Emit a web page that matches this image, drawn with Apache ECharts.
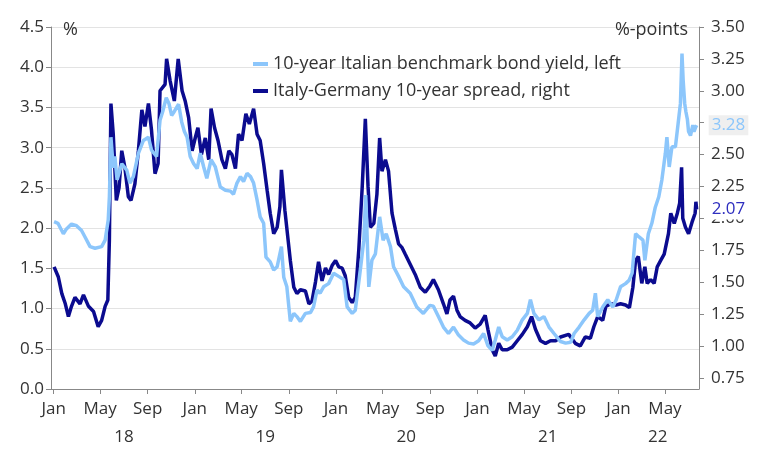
<!DOCTYPE html>
<html>
<head>
<meta charset="utf-8">
<script src="https://cdn.jsdelivr.net/npm/echarts@6.0.0/dist/echarts.min.js"></script>
<style>
html,body{margin:0;padding:0;background:#fff;}
#chart{width:760px;height:449px;}
</style>
</head>
<body>
<div id="chart"></div>
<script>
// ---- DATA ----
const yieldName = '10-year Italian benchmark bond yield, left';
const spreadName = 'Italy-Germany 10-year spread, right';

const yieldDates = ['2018-01-02','2018-01-12','2018-01-26','2018-02-03','2018-02-16','2018-03-01','2018-03-14','2018-03-23','2018-04-05','2018-04-18','2018-05-05','2018-05-14','2018-05-22','2018-05-25','2018-05-29','2018-06-04','2018-06-08','2018-06-14','2018-06-26','2018-07-09','2018-07-17','2018-07-26','2018-08-08','2018-08-21','2018-09-03','2018-09-11','2018-09-24','2018-10-03','2018-10-10','2018-10-19','2018-10-26','2018-11-02','2018-11-09','2018-11-20','2018-11-28','2018-12-05','2018-12-12','2018-12-20','2018-12-29','2019-01-07','2019-01-15','2019-01-24','2019-02-01','2019-02-12','2019-02-23','2019-03-08','2019-03-21','2019-04-03','2019-04-11','2019-04-20','2019-04-29','2019-05-07','2019-05-16','2019-05-25','2019-06-02','2019-06-11','2019-06-19','2019-06-28','2019-07-04','2019-07-15','2019-07-24','2019-08-02','2019-08-13','2019-08-19','2019-08-27','2019-09-05','2019-09-14','2019-09-22','2019-10-01','2019-10-14','2019-10-27','2019-11-04','2019-11-13','2019-11-21','2019-11-30','2019-12-13','2019-12-26','2020-01-08','2020-01-21','2020-01-30','2020-02-12','2020-02-20','2020-03-05','2020-03-13','2020-03-18','2020-03-26','2020-04-03','2020-04-12','2020-04-23','2020-05-02','2020-05-10','2020-05-21','2020-05-29','2020-06-11','2020-06-24','2020-07-11','2020-07-28','2020-08-14','2020-08-31','2020-09-09','2020-09-22','2020-10-05','2020-10-18','2020-10-31','2020-11-13','2020-11-26','2020-12-09','2020-12-22','2021-01-04','2021-01-17','2021-01-28','2021-02-08','2021-02-16','2021-02-25','2021-03-06','2021-03-19','2021-04-01','2021-04-14','2021-04-27','2021-05-10','2021-05-18','2021-05-27','2021-06-09','2021-06-22','2021-07-05','2021-07-18','2021-08-04','2021-08-17','2021-08-30','2021-09-08','2021-09-21','2021-10-04','2021-10-17','2021-10-26','2021-11-02','2021-11-08','2021-11-21','2021-12-04','2021-12-17','2021-12-26','2022-01-06','2022-01-19','2022-01-28','2022-02-05','2022-02-14','2022-02-23','2022-03-05','2022-03-10','2022-03-19','2022-03-28','2022-04-06','2022-04-15','2022-04-23','2022-05-02','2022-05-06','2022-05-12','2022-05-19','2022-05-28','2022-06-04','2022-06-10','2022-06-14','2022-06-17','2022-06-21','2022-06-24','2022-06-28','2022-07-01','2022-07-06','2022-07-12','2022-07-15','2022-07-19','2022-07-22'];
const yieldValues = [2.08,2.06,1.93,1.99,2.05,2.03,1.97,1.89,1.77,1.75,1.77,1.85,2.10,2.39,3.13,2.75,2.89,2.60,2.80,2.72,2.56,2.64,2.93,3.09,3.13,2.97,2.89,3.34,3.45,3.62,3.55,3.40,3.45,3.54,3.32,3.20,3.13,2.89,2.80,2.74,2.93,2.76,2.62,2.85,2.76,2.51,2.47,2.46,2.42,2.56,2.64,2.58,2.68,2.64,2.56,2.35,2.14,2.06,1.64,1.58,1.48,1.52,1.77,1.39,1.27,0.84,0.94,0.90,0.84,0.94,0.95,1.02,1.23,1.19,1.27,1.31,1.44,1.40,1.36,1.02,0.94,0.98,1.52,1.85,2.41,1.27,1.60,1.68,2.14,1.85,1.93,1.77,1.52,1.40,1.27,1.19,1.02,0.94,1.04,1.03,0.90,0.77,0.69,0.77,0.67,0.61,0.57,0.56,0.60,0.69,0.54,0.48,0.61,0.77,0.65,0.61,0.65,0.73,0.86,0.94,1.11,0.94,0.86,0.90,0.77,0.69,0.59,0.57,0.58,0.69,0.77,0.86,0.94,0.98,1.19,0.90,1.02,1.11,1.02,1.11,1.27,1.31,1.35,1.44,1.93,1.89,1.85,1.60,1.93,2.06,2.26,2.39,2.60,2.93,3.13,2.76,3.01,3.01,3.30,3.55,4.17,3.84,3.55,3.45,3.35,3.20,3.15,3.28,3.20,3.25,3.28];

const spreadDates = ['2018-01-02','2018-01-13','2018-01-22','2018-01-31','2018-02-08','2018-02-16','2018-02-25','2018-03-10','2018-03-19','2018-04-01','2018-04-14','2018-04-26','2018-05-05','2018-05-14','2018-05-21','2018-05-25','2018-05-29','2018-06-04','2018-06-12','2018-06-19','2018-06-26','2018-07-04','2018-07-13','2018-07-20','2018-07-30','2018-08-08','2018-08-17','2018-08-25','2018-09-03','2018-09-11','2018-09-20','2018-09-28','2018-10-03','2018-10-16','2018-10-20','2018-10-29','2018-11-09','2018-11-19','2018-11-29','2018-12-07','2018-12-16','2018-12-25','2019-01-02','2019-01-09','2019-01-18','2019-01-28','2019-02-06','2019-02-12','2019-02-21','2019-03-02','2019-03-12','2019-03-21','2019-03-30','2019-04-07','2019-04-16','2019-04-24','2019-05-03','2019-05-13','2019-05-22','2019-06-02','2019-06-11','2019-06-19','2019-06-28','2019-07-07','2019-07-15','2019-07-24','2019-08-02','2019-08-09','2019-08-13','2019-08-22','2019-09-05','2019-09-14','2019-09-22','2019-10-01','2019-10-14','2019-10-23','2019-10-31','2019-11-09','2019-11-17','2019-11-26','2019-12-05','2019-12-13','2019-12-22','2019-12-31','2020-01-08','2020-01-17','2020-01-25','2020-02-03','2020-02-12','2020-02-20','2020-02-29','2020-03-09','2020-03-17','2020-03-24','2020-03-30','2020-04-08','2020-04-16','2020-04-23','2020-04-29','2020-05-08','2020-05-16','2020-05-25','2020-06-03','2020-06-11','2020-06-20','2020-06-28','2020-07-11','2020-07-24','2020-08-06','2020-08-19','2020-08-31','2020-09-09','2020-09-22','2020-10-05','2020-10-14','2020-10-22','2020-10-31','2020-11-09','2020-11-17','2020-11-30','2020-12-13','2020-12-26','2021-01-08','2021-01-21','2021-01-28','2021-02-08','2021-02-16','2021-02-25','2021-03-06','2021-03-19','2021-04-01','2021-04-14','2021-04-27','2021-05-10','2021-05-21','2021-05-31','2021-06-13','2021-06-26','2021-07-09','2021-07-22','2021-08-04','2021-08-25','2021-09-11','2021-09-24','2021-10-07','2021-10-20','2021-10-29','2021-11-08','2021-11-21','2021-11-29','2021-12-12','2021-12-25','2022-01-06','2022-01-19','2022-01-29','2022-02-07','2022-02-14','2022-02-21','2022-03-02','2022-03-10','2022-03-16','2022-03-25','2022-04-03','2022-04-11','2022-04-20','2022-04-29','2022-05-10','2022-05-16','2022-05-25','2022-06-02','2022-06-08','2022-06-13','2022-06-16','2022-06-23','2022-07-01','2022-07-10','2022-07-18','2022-07-20','2022-07-22'];
const spreadValues = [1.62,1.54,1.41,1.33,1.23,1.31,1.38,1.33,1.40,1.31,1.27,1.15,1.20,1.31,1.36,1.83,2.90,2.66,2.14,2.24,2.53,2.40,2.17,2.14,2.27,2.53,2.85,2.72,2.90,2.69,2.35,2.43,3.00,3.05,3.25,3.08,2.92,3.25,3.00,2.92,2.79,2.53,2.63,2.71,2.50,2.63,2.46,2.86,2.71,2.61,2.46,2.39,2.53,2.50,2.39,2.66,2.61,2.82,2.74,2.86,2.66,2.61,2.43,2.22,2.04,1.88,1.93,2.09,2.38,2.06,1.67,1.46,1.41,1.44,1.43,1.33,1.35,1.50,1.66,1.51,1.61,1.56,1.63,1.67,1.62,1.61,1.55,1.38,1.34,1.38,1.75,2.25,2.78,2.25,1.93,1.96,2.19,2.63,2.37,2.46,2.37,2.04,1.91,1.80,1.77,1.72,1.64,1.56,1.46,1.42,1.47,1.52,1.44,1.33,1.25,1.36,1.39,1.28,1.23,1.20,1.18,1.14,1.17,1.24,1.13,0.97,0.92,1.02,0.97,0.97,0.99,1.04,1.09,1.15,1.23,1.13,1.04,1.02,1.04,1.04,1.07,1.09,1.02,1.00,1.07,1.06,1.15,1.23,1.20,1.31,1.33,1.32,1.33,1.32,1.30,1.46,1.67,1.70,1.49,1.62,1.49,1.52,1.49,1.62,1.67,1.72,1.88,2.04,1.96,2.04,2.12,2.40,2.00,1.93,1.88,1.97,2.04,2.13,2.07];

const monthTickDates = ['2018-01-01','2018-05-01','2018-09-01','2019-01-01','2019-05-01','2019-09-01','2020-01-01','2020-05-01','2020-09-01','2021-01-01','2021-05-01','2021-09-01','2022-01-01','2022-05-01'];
const monthTickLabels = ['Jan','May','Sep','Jan','May','Sep','Jan','May','Sep','Jan','May','Sep','Jan','May'];
const yearLabelDates = ['2018-07-02','2019-07-02','2020-07-01','2021-07-02','2022-04-12'];
const yearLabels = ['18','19','20','21','22'];
const rightTicks = [0.75,1.00,1.25,1.50,1.75,2.00,2.25,2.50,2.75,3.00,3.25,3.50];

// ---- helpers ----
function ts(s){const p=s.split('-').map(Number);return Date.UTC(p[0],p[1]-1,p[2]);}
const monthTs = monthTickDates.map(ts);
const yearTs = yearLabelDates.map(ts);
const xMin = ts('2017-12-25'), xMax = ts('2022-07-28');
const FONT = 'Open Sans';
const TXT = '#333333';
const LIGHT = '#8cc6fb';
const DARK = '#0b0b8f';
const AX = 17;

const chart = echarts.init(document.getElementById('chart'), null, {renderer:'canvas'});
chart.setOption({
  animation:false,
  textStyle:{fontFamily:FONT},
  title:[
    {text:'%', left:58, top:16, textStyle:{fontSize:18,fontWeight:'normal',color:TXT,fontFamily:FONT}},
    {text:'%-points', right:67, top:16, textStyle:{fontSize:18,fontWeight:'normal',color:TXT,fontFamily:FONT}}
  ],
  legend:{
    data:[yieldName, spreadName],
    orient:'vertical', left:253, top:55, padding:0,
    itemWidth:15, itemHeight:4, itemGap:9, icon:'rect',
    textStyle:{fontSize:18,color:TXT,fontFamily:FONT}
  },
  grid:{left:51, right:61, top:27, bottom:60, containLabel:false},
  xAxis:[
    {type:'value', min:xMin, max:xMax, position:'bottom',
     axisLine:{show:true, lineStyle:{color:'#888', width:1}},
     axisTick:{show:true, customValues:monthTs, length:5, lineStyle:{color:'#888'}},
     axisLabel:{customValues:monthTs, hideOverlap:false, margin:12, fontSize:AX, color:TXT, fontFamily:FONT,
       formatter:function(v){const i=monthTs.indexOf(v);return i>=0?monthTickLabels[i]:'';}},
     splitLine:{show:false}},
    {type:'value', min:xMin, max:xMax, position:'bottom', offset:0,
     axisLine:{show:false}, axisTick:{show:false}, splitLine:{show:false},
     axisLabel:{customValues:yearTs, hideOverlap:false, margin:40, fontSize:AX, color:TXT, fontFamily:FONT,
       formatter:function(v){const i=yearTs.indexOf(v);return i>=0?yearLabels[i]:'';}}}
  ],
  yAxis:[
    {type:'value', min:0, max:4.5, interval:0.5, position:'left',
     axisLine:{show:true, lineStyle:{color:'#888', width:1}},
     axisTick:{show:true, length:5, lineStyle:{color:'#888'}},
     axisLabel:{margin:7, fontSize:AX, color:TXT, fontFamily:FONT, formatter:function(v){return v.toFixed(1);}},
     splitLine:{show:true, lineStyle:{color:'#e3e3e3', width:1}}},
    {type:'value', min:0.662, max:3.5, position:'right',
     axisLine:{show:true, lineStyle:{color:'#888', width:1}},
     axisTick:{show:true, length:5, customValues:rightTicks, lineStyle:{color:'#888'}},
     axisLabel:{margin:12, customValues:rightTicks, fontSize:AX, color:TXT, fontFamily:FONT, formatter:function(v){return v.toFixed(2);}},
     splitLine:{show:false}}
  ],
  series:[
    {name:yieldName, type:'line', xAxisIndex:0, yAxisIndex:0, z:3, showSymbol:false, symbol:'none',
     data:yieldDates.map(function(d,i){return [ts(d), yieldValues[i]];}),
     lineStyle:{color:LIGHT, width:3.5}, itemStyle:{color:LIGHT},
     endLabel:{show:true, distance:12, fontSize:AX, color:LIGHT, fontFamily:FONT, backgroundColor:'#efefef', padding:[2,3,1,3],
       formatter:function(p){return p.value[1].toFixed(2);}}},
    {name:spreadName, type:'line', xAxisIndex:0, yAxisIndex:1, z:2, showSymbol:false, symbol:'none',
     data:spreadDates.map(function(d,i){return [ts(d), spreadValues[i]];}),
     lineStyle:{color:DARK, width:3.5}, itemStyle:{color:DARK},
     endLabel:{show:true, distance:12, fontSize:AX, color:'#2e2ebf', fontFamily:FONT, backgroundColor:'#ffffff', padding:[2,3,1,3],
       formatter:function(p){return p.value[1].toFixed(2);}}}
  ]
});
</script>
</body>
</html>
